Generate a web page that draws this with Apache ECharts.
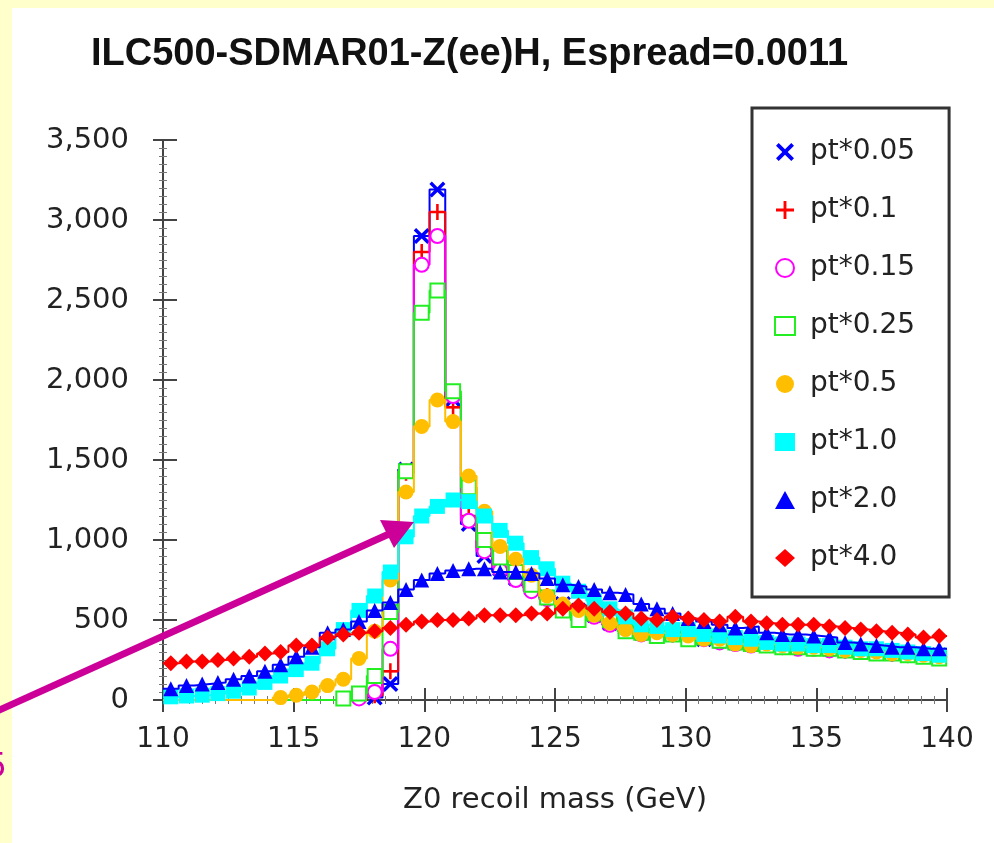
<!DOCTYPE html>
<html><head><meta charset="utf-8">
<script src="https://cdn.jsdelivr.net/npm/echarts@6/dist/echarts.min.js"></script>
<style>html,body{margin:0;padding:0;background:#FFFFCC;}#c{width:994px;height:843px;}</style>
</head><body><div id="c"></div><script>
// Histogram binning (x axis): 50 bins of 0.6 GeV from 110 to 140
const xStart = 110;
const binWidth = 0.6;
const seriesNames = ['pt*0.05','pt*0.1','pt*0.15','pt*0.25','pt*0.5','pt*1.0','pt*2.0','pt*4.0'];
const yTicks = [0,500,1000,1500,2000,2500,3000,3500];
const xTicks = [110,115,120,125,130,135,140];

const pt005 = [0,0,0,0,0,0,0,0,0,0,0,0,0,15,100,1440,2900,3190,1880,1100,900,820,760,700,640,600,560,530,480,450,420,410,420,400,380,370,360,360,350,340,330,330,320,320,310,300,300,290,280,280];
const pt01  = [0,0,0,0,0,0,0,0,0,0,0,0,0,30,180,1420,2800,3050,1830,1150,950,850,780,700,650,590,570,540,490,460,430,420,410,410,390,380,370,350,360,340,340,330,320,310,310,300,290,290,280,270];
const pt015 = [0,0,0,0,0,0,0,0,0,0,0,0,10,50,320,1430,2720,2900,1900,1120,930,810,750,680,630,590,550,520,470,440,410,400,420,390,380,360,350,340,350,330,320,320,310,310,300,300,290,280,280,270];
const pt025 = [0,0,0,0,0,0,0,0,0,0,0,10,40,150,550,1430,2420,2560,1930,1330,1000,890,800,720,640,560,500,540,500,430,420,400,410,380,390,370,360,350,340,330,330,320,320,310,300,290,290,280,270,260];
const pt05  = [0,0,0,0,0,0,0,15,30,50,90,130,260,430,750,1300,1710,1875,1740,1400,1180,960,880,780,650,600,560,530,480,440,410,420,410,400,380,380,350,340,350,340,330,330,320,310,310,300,290,290,280,270];
const pt10  = [20,25,30,40,55,75,110,150,190,230,320,440,560,650,800,1020,1150,1210,1250,1240,1150,1060,980,890,820,730,680,620,570,520,470,460,440,440,410,400,390,380,360,350,350,340,340,330,320,320,310,300,290,280];
const pt20  = [70,90,100,110,130,150,180,220,270,330,420,440,490,560,610,690,750,790,810,820,820,800,800,790,760,720,710,690,670,660,600,570,540,510,490,470,450,460,420,410,410,400,390,360,350,340,330,330,320,320];
const pt40  = [230,240,240,250,260,270,290,300,340,340,390,410,420,430,450,470,490,500,500,510,530,530,530,540,540,570,590,570,550,540,510,500,520,510,500,490,520,490,480,470,470,470,460,450,440,430,420,410,390,400];

const allVals = [pt005, pt01, pt015, pt025, pt05, pt10, pt20, pt40];
const colors = ['#0000FF','#FF0000','#FF00FF','#22EE22','#FFBF00','#00FFFF','#0000FF','#FF0000'];
const symbols = [
  'path://M0,1.5L1.5,0L5,3.5L8.5,0L10,1.5L6.5,5L10,8.5L8.5,10L5,6.5L1.5,10L0,8.5L3.5,5Z',
  'path://M4.2,0H5.8V4.2H10V5.8H5.8V10H4.2V5.8H0V4.2H4.2Z',
  'emptyCircle','emptyRect','circle','rect','triangle','diamond'
];
const sizes = [16,16,14,14,15,15,15,16];

function histLine(vals){
  const d = [];
  vals.forEach((v,i)=>{ const lo = xStart + i*binWidth; d.push([lo, v], [lo + binWidth, v]); });
  return d;
}
function points(vals){
  const d = [];
  vals.forEach((v,i)=>{ if (v > 0) d.push([xStart + (i+0.5)*binWidth, v]); });
  return d;
}

const series = [];
allVals.forEach((vals, k)=>{
  series.push({
    type:'line', name: seriesNames[k] + ' hist', data: histLine(vals), xAxisIndex:0, yAxisIndex:0,
    showSymbol:false, symbol:'none', lineStyle:{color: colors[k], width:2}, silent:true, z: 2 + k*0.1
  });
  const empty = symbols[k].indexOf('empty') === 0;
  series.push({
    type:'scatter', name: seriesNames[k], data: points(vals), xAxisIndex:0, yAxisIndex:0,
    symbol: symbols[k], symbolSize: sizes[k],
    itemStyle: empty ? {color: colors[k], borderColor: colors[k], borderWidth: 3, opacity:1} : {color: colors[k], opacity:1},
    z: 2.05 + k*0.1
  });
});

const fmt = v => String(v).replace(/\B(?=(\d{3})+(?!\d))/g, ',');
const axisFont = {fontFamily:'DejaVu Sans', fontSize:28, color:'#222'};

const chart = echarts.init(document.getElementById('c'), null, {renderer:'canvas'});
chart.setOption({
  animation:false,
  backgroundColor:'#FFFFCC',
  title:{text:'ILC500-SDMAR01-Z(ee)H, Espread=0.0011', left:86, top:31,
    textStyle:{fontFamily:'Liberation Sans', fontWeight:'bold', fontSize:38, color:'#111'}},
  grid:{left:163, right:47, top:140, bottom:143, containLabel:false},
  legend:{orient:'vertical', left:752, top:108, data:seriesNames,
    itemWidth:20, itemHeight:18, itemGap:30, padding:[30,34,25,22],
    borderColor:'#333', borderWidth:3, backgroundColor:'#fff',
    textStyle:{fontFamily:'DejaVu Sans', fontSize:28, color:'#222', padding:[0,0,0,10]}},
  xAxis:[
    {type:'value', min:110, max:140, interval:5, position:'bottom',
     name:'Z0 recoil mass (GeV)', nameLocation:'middle', nameGap:86,
     nameTextStyle:{fontFamily:'DejaVu Sans', fontSize:29, color:'#222'},
     axisLine:{show:true, onZero:false, lineStyle:{color:'#444', width:2}},
     axisTick:{show:true, inside:false, length:12, lineStyle:{color:'#444', width:2}},
     minorTick:{show:true, splitNumber:10, length:4, lineStyle:{color:'#777'}},
     axisLabel:Object.assign({margin:26, formatter: v=>String(v)}, axisFont),
     splitLine:{show:false}},
    {type:'value', min:110, max:140, interval:5, position:'bottom',
     axisLine:{show:false}, axisLabel:{show:false}, splitLine:{show:false},
     axisTick:{show:true, inside:true, length:12, lineStyle:{color:'#444', width:2}},
     minorTick:{show:true, splitNumber:10, length:4, lineStyle:{color:'#777'}}}
  ],
  yAxis:[
    {type:'value', min:0, max:3500, interval:500,
     axisLine:{show:true, onZero:false, lineStyle:{color:'#444', width:2}},
     axisTick:{show:true, inside:false, length:10, lineStyle:{color:'#444', width:2}},
     minorTick:{show:true, splitNumber:10, length:4, lineStyle:{color:'#777'}},
     axisLabel:Object.assign({margin:34, formatter: fmt}, axisFont, {fontSize:29}),
     splitLine:{show:false}},
    {type:'value', min:0, max:3500, interval:500, position:'left',
     axisLine:{show:false}, axisLabel:{show:false}, splitLine:{show:false},
     axisTick:{show:true, inside:true, length:14, lineStyle:{color:'#444', width:2}},
     minorTick:{show:true, splitNumber:10, length:4, lineStyle:{color:'#777'}}}
  ],
  graphic:[
    {type:'rect', left:12, top:8, shape:{width:1000, height:900}, style:{fill:'#ffffff'}, z:-100, silent:true},
    {type:'polyline', shape:{points:[[-5,712],[389,534]]}, style:{stroke:'#CC0099', lineWidth:7, fill:null}, z:100},
    {type:'polygon', shape:{points:[[414,522],[394,548],[380,520]]}, style:{fill:'#CC0099'}, z:100},
    {type:'text', left:-14, top:752, style:{text:'5', fontSize:33, fontFamily:'DejaVu Sans', fill:'#CC0099'}, z:100}
  ],
  series: series
});
</script></body></html>
